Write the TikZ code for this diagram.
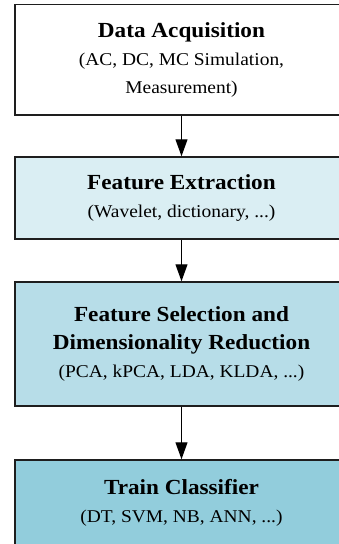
\documentclass[tikz,border=0pt]{standalone}
\usepackage{fontspec}
\setmainfont[FakeStretch=1.08]{Liberation Serif}
\usetikzlibrary{arrows.meta}

\definecolor{stagelight}{HTML}{DAEEF3}
\definecolor{stagemid}{HTML}{B7DDE8}
\definecolor{stagedark}{HTML}{92CDDC}
\definecolor{stageline}{HTML}{1E1E1E}

\tikzset{
  stage/.style={draw=stageline, line width=1.5pt, minimum width=333pt, inner sep=0pt,
    align=center, font=\fontsize{18}{28}\selectfont},
}
\newcommand{\stagetitle}[1]{{\bfseries\fontsize{21.5}{28}\selectfont #1}}

\begin{document}
\begin{tikzpicture}[x=1pt, y=-1pt, >={Triangle[width=12pt,length=17pt]}]
                \useasboundingbox (0,0) rectangle (339,544);
                \node[stage, fill=white, minimum height=110.5pt] (acq) at (181.5,59.75)
                  {\stagetitle{Data Acquisition}\\(AC, DC, MC Simulation,\\Measurement)};
                \node[stage, fill=stagelight, minimum height=82pt] (ext) at (181.5,198)
                  {\stagetitle{Feature Extraction}\\(Wavelet, dictionary, ...)};
                \node[stage, fill=stagemid, minimum height=124pt] (sel) at (181.5,344)
                  {\stagetitle{Feature Selection and}\\\stagetitle{Dimensionality Reduction}\\(PCA, kPCA, LDA, KLDA, ...)};
                \node[stage, fill=stagedark, minimum height=86pt] (cls) at (181.5,503)
                  {\stagetitle{Train Classifier}\\(DT, SVM, NB, ANN, ...)};
                \draw[->, line width=1pt] (acq) to (ext);
                \draw[->, line width=1pt] (ext) to (sel);
                \draw[->, line width=1pt] (sel) to (cls);
            \end{tikzpicture}
\end{document}
